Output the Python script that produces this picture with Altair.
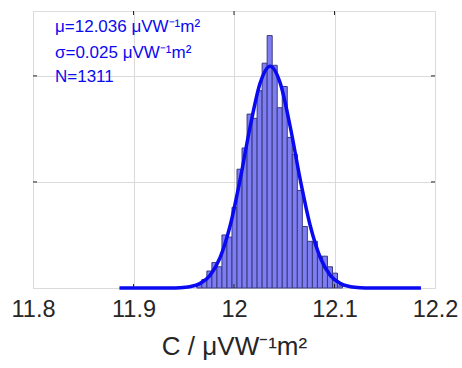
import altair as alt
import pandas as pd

# Histogram bins (left edges) and counts
bin_start = [11.963, 11.968, 11.973, 11.978, 11.983, 11.988, 11.993, 11.998,
             12.003, 12.008, 12.013, 12.018, 12.023, 12.028, 12.033, 12.038,
             12.043, 12.048, 12.053, 12.058, 12.063, 12.068, 12.073, 12.078,
             12.083, 12.088, 12.093, 12.098, 12.103]
counts = [2, 4, 8, 12, 10, 25, 24, 38, 56, 66, 82, 80, 93, 106, 119, 105,
          85, 95, 71, 63, 46, 29, 22, 22, 15, 15, 10, 7, 1]
bin_width = 0.005

# Fitted curve points
curve_x = [11.886, 11.896, 11.906, 11.916, 11.926, 11.936, 11.946, 11.956,
           11.966, 11.976, 11.986, 11.996, 12.006, 12.016, 12.026, 12.036,
           12.046, 12.056, 12.066, 12.076, 12.086, 12.096, 12.106, 12.116,
           12.126, 12.136, 12.146, 12.156, 12.166, 12.176, 12.186]
curve_y = [0, 0, 0, 0.001, 0.007, 0.035, 0.16, 0.63, 2.07, 5.87, 14.15, 29.1,
           50.9, 75.9, 96.6, 104.6, 96.6, 75.9, 50.9, 29.1, 14.15, 5.87, 2.07,
           0.63, 0.16, 0.035, 0.007, 0.001, 0, 0, 0]

x_ticks = [11.8, 11.9, 12.0, 12.1, 12.2]
y_ticks = [0, 50, 100]
annotations = ["μ=12.036 μVW⁻¹m²", "σ=0.025 μVW⁻¹m²", "N=1311"]
ann_baselines = [21, 46.5, 70.5]

FONT = "Liberation Sans"
AX = "#262626"
BLUE = "#0a0af0"
W, H = 402, 277

hist_df = pd.DataFrame({"x0": bin_start,
                        "x1": [b + bin_width for b in bin_start],
                        "n": counts})
curve_df = pd.DataFrame({"x": curve_x, "y": curve_y})

xscale = alt.Scale(domain=[11.8, 12.2], nice=False)
yscale = alt.Scale(domain=[0, 130.6], nice=False)

xaxis = alt.Axis(values=x_ticks, format="~g", title="C / μVW⁻¹m²",
                 labelFontSize=23.5, titleFontSize=26, labelColor=AX,
                 titleColor=AX, titleFontWeight="normal", labelPadding=9,
                 titlePadding=13, tickSize=0, domain=False, grid=True,
                 labelFlush=False,
                 gridColor="#dadada", labelFont=FONT, titleFont=FONT)
yaxis = alt.Axis(values=y_ticks, labels=False, title=None, tickSize=0,
                 domain=False, grid=True, gridColor="#dadada")

bars = alt.Chart(hist_df).mark_bar(
    color="#7e7ef2", stroke="#3a3a80", strokeWidth=1, opacity=1
).encode(
    x=alt.X("x0:Q", scale=xscale, axis=xaxis),
    x2="x1:Q",
    y=alt.Y("n:Q", scale=yscale, axis=yaxis),
    y2=alt.datum(0),
)

curve = alt.Chart(curve_df).mark_line(
    color=BLUE, strokeWidth=3.5, interpolate="monotone"
).encode(
    x=alt.X("x:Q", scale=xscale),
    y=alt.Y("y:Q", scale=yscale),
)

# inward tick marks (MATLAB style)
xt_df = pd.DataFrame({"x": x_ticks[1:-1]})
yt_df = pd.DataFrame({"y": y_ticks[1:]})
xt_bottom = alt.Chart(xt_df).mark_rule(color=AX, strokeWidth=1).encode(
    x=alt.X("x:Q", scale=xscale), y=alt.value(H), y2=alt.value(H - 4))
xt_top = alt.Chart(xt_df).mark_rule(color=AX, strokeWidth=1).encode(
    x=alt.X("x:Q", scale=xscale), y=alt.value(0), y2=alt.value(4))
yt_left = alt.Chart(yt_df).mark_rule(color=AX, strokeWidth=1).encode(
    y=alt.Y("y:Q", scale=yscale), x=alt.value(0), x2=alt.value(4))
yt_right = alt.Chart(yt_df).mark_rule(color=AX, strokeWidth=1).encode(
    y=alt.Y("y:Q", scale=yscale), x=alt.value(W), x2=alt.value(W - 4))

texts = []
for t, b in zip(annotations, ann_baselines):
    texts.append(
        alt.Chart(pd.DataFrame({"t": [t]})).mark_text(
            align="left", baseline="alphabetic", font=FONT, fontSize=17,
            color=BLUE
        ).encode(x=alt.value(22), y=alt.value(b), text="t:N")
    )

chart = alt.layer(bars, curve, xt_bottom, xt_top, yt_left, yt_right,
                  *texts).properties(
    width=W, height=H,
    autosize=alt.AutoSizeParams(type="none"),
    padding={"left": 33, "top": 11, "right": 27, "bottom": 80},
).configure_view(stroke=AX, strokeWidth=1.3).configure(background="white")

chart.save("out.html", embed_options={"renderer": "svg", "actions": False})
